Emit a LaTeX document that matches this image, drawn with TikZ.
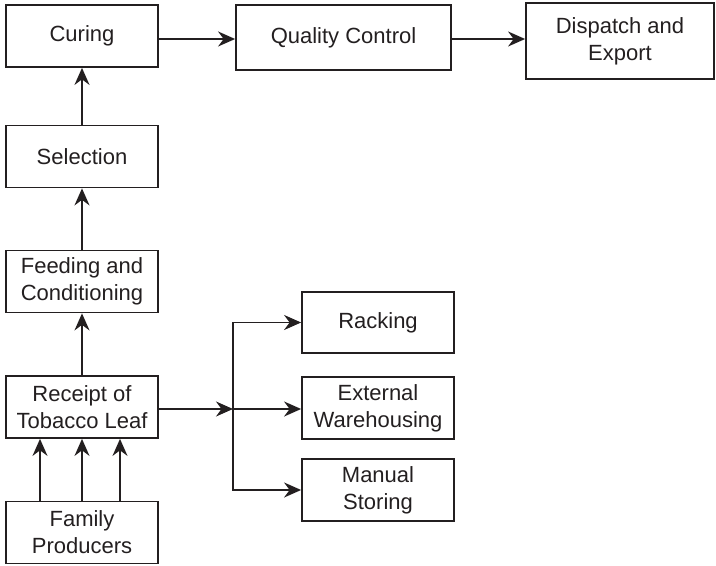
\documentclass[tikz,border=0pt]{standalone}
\usepackage{fontspec}
\setmainfont{Liberation Sans}
\usepackage{tikz}
\usetikzlibrary{positioning,arrows.meta}
\definecolor{ink}{HTML}{231F20}
\tikzset{
  stage/.style={draw=ink, line width=0.9pt, align=center, minimum width=76pt, minimum height=31pt, inner sep=2pt},
  arrow/.style={-{Stealth[length=8.5pt, width=7.5pt]}, draw=ink, line width=0.8pt}
}

\begin{document}
\begin{tikzpicture}[x=0.5pt, y=-0.5pt, font=\fontsize{11}{13.5}\selectfont, text=ink]
  \useasboundingbox (0,0) rectangle (716,566);

  \node[stage] (curing) at (82,36) {Curing};
  \node[stage, minimum width=107.5pt, minimum height=32.5pt] (quality) at (343.5,37.5) {Quality Control};
  \node[stage, minimum width=94pt, minimum height=38pt] (dispatch) at (620,41) {Dispatch and\\Export};
  \node[stage] (selection) at (82,156.5) {Selection};
  \node[stage] (feeding) at (82,281.5) {Feeding and\\Conditioning};
  \node[stage] (receipt) at (82,407) {Receipt of\\Tobacco Leaf};
  \node[stage] (family) at (82,532.5) {Family\\Producers};

  \node[stage, minimum height=30.5pt] (racking) at (378,322.5) {Racking};
  \node[stage] (external) at (378,408) {External\\Warehousing};
  \node[stage] (manual) at (378,490) {Manual\\Storing};

  \coordinate (split) at (233,409);
  \coordinate (topline) at (0,39);

  \foreach \dx in {-21pt,0pt,19pt}
    \draw[arrow] ([xshift=\dx]family.north) -- ([xshift=\dx]receipt.south);
  \draw[arrow] (receipt) -- (feeding);
  \draw[arrow] (feeding) -- (selection);
  \draw[arrow] (selection) -- (curing);
  \draw[arrow] (curing.east |- topline) -- (quality.west |- topline);
  \draw[arrow] (quality.east |- topline) -- (dispatch.west |- topline);

  \draw[arrow] (receipt.east |- split) -- (split);
  \draw[arrow] (split) -- (external.west |- split);
  \draw[arrow] (split) |- (racking.west);
  \draw[arrow] (split) |- (manual.west);
\end{tikzpicture}
\end{document}
